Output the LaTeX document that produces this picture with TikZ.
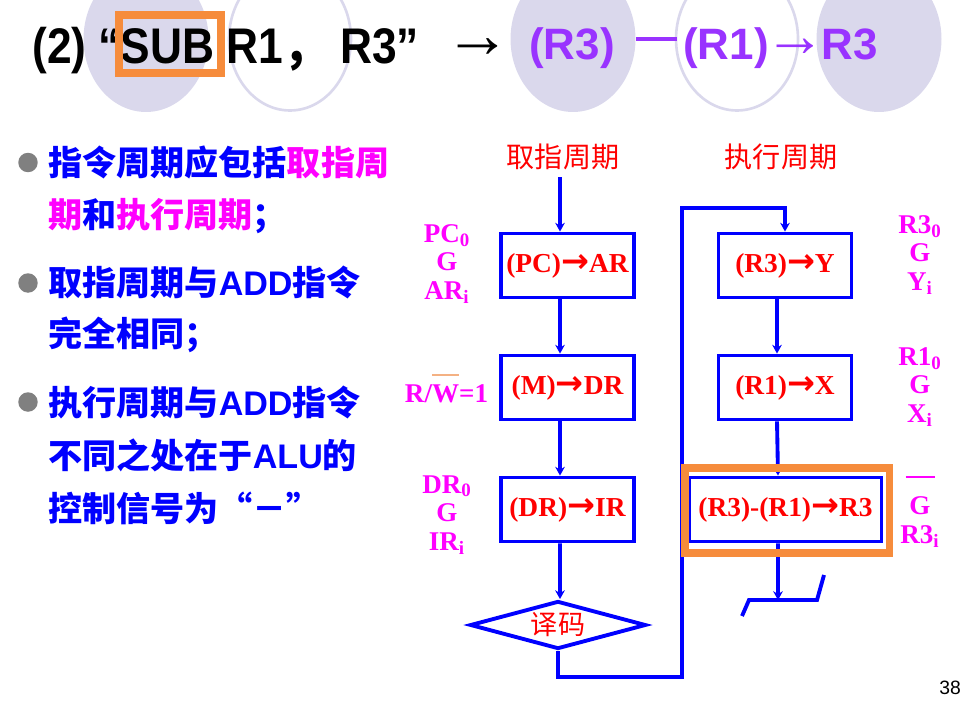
\documentclass[tikz,border=0pt]{standalone}
\usepackage{fontspec}
\usepackage{graphicx}
\setmainfont{Liberation Serif}
\newfontfamily\cjk{Noto Sans CJK SC}
\newfontfamily\arial{Liberation Sans}
\newfontfamily\dvs{DejaVu Sans}
\definecolor{slideblue}{HTML}{0000FF}
\definecolor{slidepink}{HTML}{FF00FF}
\definecolor{slidered}{HTML}{FF0000}
\definecolor{lavender}{HTML}{DAD8EC}
\definecolor{hiorange}{HTML}{F68C3C}
\definecolor{barorange}{HTML}{F4B183}
\definecolor{titlepurple}{HTML}{9933FF}
\usetikzlibrary{positioning, arrows.meta, shapes.geometric}
\tikzstyle{arrow} = [line width=2.2pt,draw=slideblue,-{Stealth[length=5pt,width=5.5pt]}]
\newcommand{\rarr}{{\fontsize{19}{19}\selectfont\dvs\bfseries →}}
\newcommand{\rwbar}[1]{\setbox0\hbox{#1}\rlap{\textcolor{barorange}{\rule[0.95em]{\wd0}{0.07em}}}\box0}

\begin{document}
\begin{tikzpicture}[x=0.02cm,y=-0.02cm]
                    \tikzstyle{every node}=[inner sep=0pt]
                    \tikzstyle{box} = [rectangle, draw=slideblue, line width=2.2pt, minimum width=2.66cm, minimum height=1.28cm, text=slidered, font=\fontsize{15.6}{16}\selectfont\bfseries]
                    \tikzstyle{widebox} = [box, minimum width=3.84cm]
                    \tikzstyle{decide} = [diamond, draw=slideblue, line width=2.2pt, aspect=3.7, minimum width=3.52cm, minimum height=0.96cm, text=slidered, font=\cjk\fontsize{15.4}{16}\selectfont]
                    \tikzstyle{phase} = [text=slidered, font=\cjk\fontsize{16}{16}\selectfont]
                    \tikzstyle{signal} = [align=center, text=slidepink, font=\fontsize{15.4}{16.2}\selectfont\bfseries]
                    \tikzstyle{bullet} = [circle, fill=gray, minimum size=0.39cm]
                    \tikzstyle{point} = [anchor=west, text=slideblue, font=\cjk\bfseries\fontsize{19.4}{19.4}\selectfont]
                    \tikzstyle{flow} = [line width=2.2pt, draw=slideblue]
                    \tikzstyle{ring} = [draw=lavender, line width=1.5pt]
                    \tikzstyle{hilite} = [draw=hiorange, line width=4pt]
                    \tikzstyle{purple} = [anchor=base west, text=titlepurple, font=\arial\bfseries\fontsize{25}{26}\selectfont]

                    \useasboundingbox (0,0) rectangle (976,706);

                    % circles behind the title
                    \fill[lavender] (146,39) ellipse [x radius=1.25cm, y radius=1.46cm];
                    \draw[ring] (290,39) ellipse [x radius=1.22cm, y radius=1.43cm];
                    \fill[lavender] (573,39) ellipse [x radius=1.25cm, y radius=1.46cm];
                    \draw[ring] (737,39) ellipse [x radius=1.22cm, y radius=1.43cm];
                    \fill[lavender] (879,39) ellipse [x radius=1.25cm, y radius=1.46cm];

                    % title
                    \node[anchor=base west, font=\arial\bfseries\fontsize{28.5}{30}\selectfont] (head) at (32,64) {\scalebox{0.885}[1]{(2) “SUB R1{\cjk ，} R3”}};
                    \draw[hilite] (119,15) rectangle (221,73);
                    \node[font=\fontsize{38}{38}\selectfont] (to) at (477.5,48) {→};
                    \node[purple] (minuend) at (529,60) {(R3)};
                    \draw[titlepurple, line width=2.3pt] (636,39) -- (677,39);
                    \node[purple] (subtr) at (683,60) {(R1)};
                    \node[text=titlepurple, font=\fontsize{35}{35}\selectfont] (gives) at (795,48) {→};
                    \node[purple] (dest) at (821,60) {R3};

                    % bullet text
                    \node[bullet] (b1) at (28,162.5) {};
                    \node[bullet] (b2) at (28,283) {};
                    \node[bullet] (b3) at (28,402) {};
                    \node[point] (l1) at (48,162.5) {指令周期应包括\textcolor{slidepink}{取指周}};
                    \node[point] (l2) at (48,216) {\textcolor{slidepink}{期}和\textcolor{slidepink}{执行周期}；};
                    \node[point] (l3) at (48,282) {取指周期与{\arial ADD}指令};
                    \node[point] (l4) at (48,335) {完全相同；};
                    \node[point] (l5) at (48,402) {执行周期与{\arial ADD}指令};
                    \node[point] (l6) at (48,455) {不同之处在于{\arial ALU}的};
                    \node[point] (l7) at (48,508) {控制信号为“－”};

                    % flow chart
                    \node[phase] (fetch) at (563,157) {取指周期};
                    \node[phase] (exec) at (781,157) {执行周期};
                    \node[box] (pcar) at (567.5,265.5) {(PC)\rarr AR};
                    \node[box] (mdr) at (567.5,387.5) {(M)\rarr DR};
                    \node[box] (drir) at (567.5,509.5) {(DR)\rarr IR};
                    \node[decide] (dec) at (558,625) {译码};
                    \node[box] (r3y) at (785,265.5) {(R3)\rarr Y};
                    \node[box] (r1x) at (785,387.5) {(R1)\rarr X};
                    \node[widebox] (alu) at (785.5,509.5) {(R3)-(R1)\rarr R3};

                    \coordinate (start) at (560,177);
                    \coordinate (join) at (778,600);
                    \draw[arrow] (start) -- ([xshift=-0.15cm]pcar.north);
                    \draw[arrow] ([xshift=-0.15cm]pcar.south) -- ([xshift=-0.15cm]mdr.north);
                    \draw[arrow] ([xshift=-0.15cm]mdr.south) -- ([xshift=-0.15cm]drir.north);
                    \draw[arrow] ([xshift=-0.15cm]drir.south) -- ([xshift=0.04cm]dec.north);
                    \draw[arrow] (dec.south) -- (558,677) -| (682,208) -| (r3y.north);
                    \draw[arrow] ([xshift=-0.16cm]r3y.south) -- ([xshift=-0.16cm]r1x.north);
                    \draw[arrow] ([xshift=-0.16cm]r1x.south) -- ([xshift=-0.15cm]alu.north);
                    \draw[arrow] ([xshift=-0.15cm]alu.south) -- (join);
                    \draw[flow] (742,616) -- (749,600) -- (817,600) -- (824,575);
                    \draw[hilite] (685,468) rectangle (889,553);

                    % control signals
                    \node[signal, anchor=north] (sigpc) at (447,224) {PC\textsubscript{0}\\G\\AR\textsubscript{i}};
                    \node[signal, anchor=base] (sigrw) at (446.5,402) {R/\rwbar{W}=1};
                    \node[signal, anchor=north] (sigdr) at (447,475) {DR\textsubscript{0}\\G\\IR\textsubscript{i}};
                    \node[signal, anchor=north] (sigr3) at (920,215) {R3\textsubscript{0}\\G\\Y\textsubscript{i}};
                    \node[signal, anchor=north] (sigr1) at (920,347) {R1\textsubscript{0}\\G\\X\textsubscript{i}};
                    \node[signal, anchor=north] (sigalu) at (920,476) {\rule[0.3em]{16.5pt}{1.1pt}\\G\\R3\textsubscript{i}};

                    \node[font=\arial\fontsize{11}{12}\selectfont] (pg) at (950,688) {38};
\end{tikzpicture}
\end{document}
